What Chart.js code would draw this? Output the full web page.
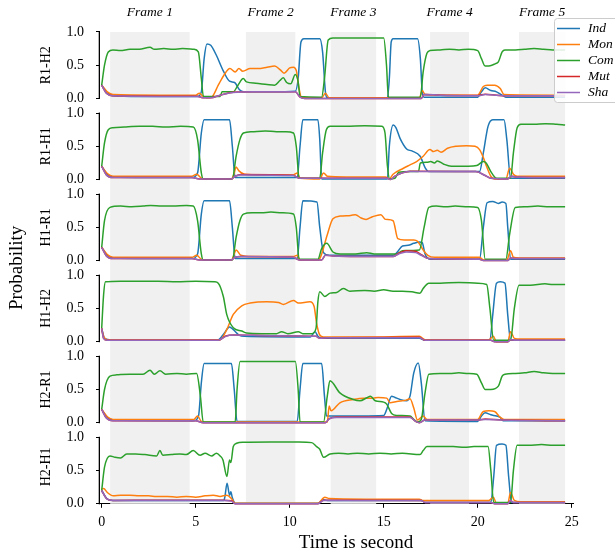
<!DOCTYPE html>
<html>
<head>
<meta charset="utf-8">
<script src="https://cdn.jsdelivr.net/npm/chart.js@4"></script>
<style>
  html, body { margin: 0; padding: 0; background: #fff; }
</style>
</head>
<body>
<canvas id="chart" width="615" height="556"></canvas>
<script>
// --------- Data (time in seconds, probability) ---------
const panelNames = ["R1-H2", "R1-H1", "H1-R1", "H1-H2", "H2-R1", "H2-H1"];
const seriesNames = ["Ind", "Mon", "Com", "Mut", "Sha"];
const xTicks = [0, 5, 10, 15, 20, 25];
const yTicks = [0, 0.5, 1];
const frameLabels = ["Frame 1", "Frame 2", "Frame 3", "Frame 4", "Frame 5"];
const frameStart = [0.45, 7.67, 12.18, 17.47, 22.2];
const frameEnd = [4.68, 10.3, 14.6, 19.54, 24.65];

// R1-H2
const r1h2Ind = [[0,0.2],[0.3,0.08],[0.6,0.04],[2,0.03],[5.1,0.03],[5.3,0.1],[5.45,0.6],[5.6,0.82],[5.8,0.8],[6.1,0.65],[6.46,0.42],[6.8,0.26],[7.07,0.24],[7.33,0.13],[7.55,0.1],[9,0.1],[10.3,0.11],[10.45,0.3],[10.6,0.85],[10.75,0.9],[11.6,0.9],[11.75,0.7],[11.9,0.1],[12,0.01],[15.2,0.01],[15.3,0.3],[15.4,0.85],[15.5,0.9],[16.8,0.9],[16.95,0.6],[17.05,0.1],[17.15,0.02],[20,0.02],[20.2,0.1],[20.4,0.16],[20.7,0.12],[21,0.1],[21.3,0.05],[21.5,0.02],[24.65,0.02]];
const r1h2Mon = [[0,0.2],[0.3,0.1],[0.6,0.06],[3,0.05],[5,0.05],[5.2,0.08],[5.4,0.03],[5.6,0.01],[5.85,0.02],[6.2,0.2],[6.5,0.35],[6.82,0.45],[7.1,0.4],[7.3,0.45],[7.5,0.41],[7.9,0.45],[8.3,0.45],[8.8,0.47],[9.2,0.49],[9.5,0.43],[9.7,0.38],[10,0.46],[10.2,0.47],[10.35,0.42],[10.5,0.15],[10.6,0.03],[10.8,0.01],[11.7,0.01],[11.9,0.08],[12.1,0.01],[16.9,0.01],[17.05,0.12],[17.2,0.06],[20,0.05],[20.3,0.18],[20.5,0.2],[20.9,0.2],[21.2,0.15],[21.4,0.06],[24.65,0.05]];
const r1h2Com = [[0,0.2],[0.15,0.5],[0.35,0.7],[0.6,0.73],[1,0.72],[1.5,0.74],[2,0.74],[2.57,0.77],[2.8,0.74],[3.3,0.75],[3.8,0.74],[4.3,0.75],[4.9,0.74],[5.14,0.7],[5.3,0.3],[5.41,0.03],[6.3,0.03],[6.4,0.1],[7,0.1],[7.25,0.2],[7.53,0.3],[7.7,0.25],[8.2,0.23],[8.8,0.21],[9.2,0.2],[9.48,0.27],[9.66,0.31],[9.84,0.24],[10.05,0.22],[10.3,0.36],[10.45,0.25],[10.55,0.03],[11.7,0.02],[11.85,0.3],[12.05,0.88],[12.3,0.91],[15,0.91],[15.15,0.5],[15.25,0.02],[16.95,0.02],[17.1,0.4],[17.3,0.68],[17.46,0.72],[18,0.73],[18.5,0.74],[19,0.73],[19.5,0.74],[20,0.72],[20.2,0.6],[20.39,0.49],[20.6,0.49],[20.92,0.52],[21.1,0.55],[21.3,0.7],[21.45,0.73],[22,0.73],[22.5,0.74],[23,0.75],[23.5,0.74],[24,0.73],[24.65,0.73]];
const r1h2Mut = [[0,0.2],[0.25,0.08],[0.6,0.04],[3,0.035],[5.1,0.035],[5.4,0.01],[5.8,0.01],[6.3,0.05],[7,0.095],[8,0.1],[10.3,0.1],[10.55,0.02],[10.8,0],[17,0],[17.15,0.06],[18,0.05],[20,0.045],[20.4,0.065],[21,0.05],[21.5,0.04],[24.65,0.04]];
const r1h2Sha = [[0,0.2],[0.25,0.08],[0.6,0.04],[3,0.03],[5.1,0.03],[5.4,0.01],[5.8,0.01],[6.3,0.05],[7,0.09],[8,0.1],[10.3,0.1],[10.55,0.02],[10.8,0],[17,0],[17.15,0.06],[18,0.05],[20,0.04],[20.4,0.06],[21,0.05],[21.5,0.04],[24.65,0.04]];

// R1-H1
const r1h1Ind = [[0,0.2],[0.3,0.08],[0.6,0.04],[4.8,0.03],[5.1,0.1],[5.3,0.7],[5.45,0.9],[6.8,0.9],[6.95,0.5],[7.1,0.03],[10.4,0.03],[10.55,0.5],[10.7,0.9],[11.5,0.9],[11.6,0.6],[11.7,0.01],[15.2,0.01],[15.3,0.5],[15.51,0.82],[15.65,0.78],[15.87,0.62],[16.22,0.46],[16.5,0.43],[16.94,0.35],[17.2,0.18],[17.4,0.12],[19,0.12],[20.1,0.12],[20.3,0.4],[20.55,0.8],[20.8,0.9],[21.4,0.9],[21.55,0.6],[21.75,0.02],[24.65,0.02]];
const r1h1Mon = [[0,0.2],[0.3,0.09],[0.6,0.05],[4.8,0.05],[5.05,0.08],[5.3,0.02],[5.5,0.01],[6.9,0.01],[7.05,0.1],[7.15,0.19],[7.3,0.13],[7.6,0.08],[8.5,0.07],[10.2,0.07],[10.4,0.1],[10.55,0.02],[11.6,0.01],[11.8,0.1],[12,0.05],[13,0.04],[15.1,0.04],[15.3,0.01],[15.5,0.08],[16.05,0.17],[16.4,0.22],[16.75,0.27],[17.1,0.35],[17.46,0.45],[17.65,0.42],[17.85,0.44],[18.05,0.41],[18.4,0.47],[18.85,0.5],[19.4,0.51],[19.86,0.5],[20.1,0.45],[20.3,0.33],[20.47,0.2],[20.7,0.05],[20.9,0.01],[21.5,0.01],[21.7,0.17],[21.9,0.08],[22.1,0.05],[24.65,0.05]];
const r1h1Com = [[0,0.2],[0.15,0.55],[0.35,0.75],[0.6,0.78],[1.2,0.79],[2,0.8],[2.7,0.8],[3.4,0.79],[4.2,0.8],[4.87,0.79],[5.1,0.6],[5.3,0.1],[5.4,0.01],[6.95,0.01],[7.15,0.35],[7.35,0.6],[7.54,0.7],[8,0.72],[8.7,0.73],[9.3,0.72],[9.8,0.72],[10.2,0.7],[10.35,0.5],[10.5,0.02],[11.6,0.02],[11.75,0.4],[11.95,0.75],[12.15,0.8],[13,0.8],[14,0.81],[14.9,0.8],[15.07,0.7],[15.2,0.2],[15.3,0.01],[15.6,0.02],[15.8,0.11],[16.4,0.12],[16.85,0.12],[16.95,0.25],[17.3,0.26],[17.5,0.27],[17.7,0.25],[17.85,0.28],[18.2,0.23],[18.6,0.2],[19.5,0.2],[19.95,0.21],[20.3,0.27],[20.45,0.25],[20.7,0.12],[21,0.02],[21.75,0.02],[21.9,0.4],[22.1,0.78],[22.3,0.83],[23,0.83],[23.6,0.84],[24.2,0.83],[24.65,0.82]];
const r1h1Mut = [[0,0.2],[0.25,0.07],[0.6,0.03],[4.8,0.03],[5.2,0.01],[6.9,0.01],[7.1,0.05],[7.4,0.075],[10.2,0.065],[10.5,0.02],[15.2,0.02],[15.35,0],[15.6,0.05],[16,0.1],[16.4,0.125],[19.9,0.12],[20.4,0.06],[20.7,0.02],[21.6,0.01],[21.8,0.05],[22,0.04],[24.65,0.03]];
const r1h1Sha = [[0,0.2],[0.25,0.07],[0.6,0.03],[4.8,0.03],[5.2,0.01],[6.9,0.01],[7.1,0.05],[7.4,0.07],[10.2,0.06],[10.5,0.02],[15.2,0.02],[15.35,0],[15.6,0.05],[16,0.1],[16.4,0.12],[19.9,0.12],[20.4,0.06],[20.7,0.02],[21.6,0.01],[21.8,0.05],[22,0.04],[24.65,0.03]];

// H1-R1
const h1r1Ind = [[0,0.2],[0.3,0.08],[0.6,0.04],[4.8,0.03],[5.1,0.1],[5.3,0.7],[5.45,0.9],[6.8,0.9],[6.95,0.5],[7.1,0.03],[10.4,0.03],[10.55,0.5],[10.7,0.9],[11.45,0.88],[11.6,0.5],[11.8,0.12],[12.1,0.08],[15.5,0.08],[15.7,0.12],[16,0.22],[16.3,0.23],[16.6,0.26],[16.9,0.28],[17.05,0.27],[17.2,0.1],[17.5,0.02],[20.1,0.02],[20.3,0.5],[20.5,0.87],[20.8,0.89],[21.1,0.86],[21.3,0.88],[21.5,0.86],[21.6,0.5],[21.75,0.02],[24.65,0.02]];
const h1r1Mon = [[0,0.2],[0.3,0.09],[0.6,0.05],[4.8,0.05],[5.05,0.08],[5.3,0.02],[5.5,0.01],[6.9,0.01],[7.05,0.1],[7.15,0.16],[7.4,0.08],[8,0.06],[10.2,0.06],[10.4,0.08],[10.55,0.01],[11.5,0.01],[11.65,0.06],[12,0.39],[12.3,0.63],[12.7,0.67],[13.25,0.68],[13.5,0.69],[13.8,0.64],[14.06,0.62],[14.4,0.66],[14.85,0.69],[15.1,0.62],[15.5,0.6],[15.75,0.33],[16.1,0.31],[16.6,0.31],[16.8,0.29],[17.1,0.16],[17.35,0.08],[17.7,0.05],[20.1,0.05],[20.3,0.01],[21.55,0.01],[21.75,0.15],[21.9,0.05],[22.2,0.04],[24.65,0.04]];
const h1r1Com = [[0,0.2],[0.15,0.6],[0.44,0.8],[1,0.82],[1.6,0.81],[2.2,0.82],[2.6,0.83],[3.2,0.82],[3.8,0.82],[4.5,0.83],[4.87,0.82],[5.1,0.6],[5.3,0.1],[5.4,0.01],[6.95,0.01],[7.15,0.35],[7.35,0.6],[7.54,0.7],[8,0.72],[8.5,0.72],[9,0.73],[9.6,0.72],[10.2,0.7],[10.35,0.5],[10.5,0.02],[11.5,0.02],[11.7,0.18],[11.97,0.26],[12.3,0.13],[12.68,0.1],[13.5,0.1],[14.1,0.12],[14.5,0.1],[15.3,0.1],[15.7,0.1],[16,0.15],[16.9,0.16],[17.15,0.5],[17.4,0.8],[17.8,0.82],[18.3,0.81],[18.8,0.82],[19.5,0.81],[20,0.8],[20.2,0.6],[20.4,0.02],[21.5,0.02],[21.7,0.4],[22,0.8],[22.5,0.81],[23.2,0.82],[23.8,0.81],[24.65,0.81]];
const h1r1Mut = [[0,0.2],[0.25,0.07],[0.6,0.03],[4.8,0.03],[5.2,0.01],[6.9,0.01],[7.1,0.05],[7.4,0.06],[10.2,0.05],[10.5,0.01],[11.7,0.01],[11.9,0.08],[12.3,0.07],[15.5,0.06],[15.8,0.11],[16.2,0.15],[16.7,0.14],[17,0.09],[17.4,0.03],[20.1,0.02],[20.3,0],[21.6,0],[21.75,0.04],[22,0.03],[24.65,0.03]];
const h1r1Sha = [[0,0.2],[0.25,0.07],[0.6,0.03],[4.8,0.03],[5.2,0.01],[6.9,0.01],[7.1,0.05],[7.4,0.06],[10.2,0.05],[10.5,0.01],[11.7,0.01],[11.9,0.08],[12.3,0.07],[15.5,0.06],[15.8,0.1],[16.2,0.13],[16.7,0.12],[17,0.08],[17.4,0.03],[20.1,0.02],[20.3,0],[21.6,0],[21.75,0.04],[22,0.03],[24.65,0.03]];

// H1-H2
const h1h2Ind = [[0,0.2],[0.15,0.05],[0.4,0.03],[6.2,0.03],[6.5,0.12],[6.8,0.22],[7,0.18],[7.3,0.1],[7.6,0.08],[11.1,0.07],[11.35,0.15],[11.5,0.08],[11.7,0.05],[16.9,0.05],[17.2,0.02],[20.65,0.02],[20.8,0.4],[21,0.88],[21.2,0.9],[21.45,0.88],[21.6,0.4],[21.75,0.02],[24.65,0.02]];
const h1h2Mon = [[0,0.2],[0.1,0.08],[0.3,0.03],[6.3,0.03],[6.65,0.18],[7,0.41],[7.45,0.54],[7.9,0.58],[8.78,0.6],[9.4,0.59],[9.66,0.56],[10.2,0.62],[10.46,0.58],[11.08,0.6],[11.3,0.53],[11.43,0.28],[11.6,0.1],[11.8,0.07],[14,0.07],[16.9,0.08],[17.2,0.03],[20.6,0.03],[20.83,0.08],[21,0],[21.6,0],[21.75,0.15],[21.95,0.05],[22.3,0.04],[24.65,0.04]];
const h1h2Com = [[0,0.2],[0.1,0.7],[0.2,0.9],[1,0.91],[2,0.91],[3,0.91],[4,0.9],[5,0.91],[6,0.9],[6.2,0.88],[6.47,0.68],[6.65,0.41],[7,0.21],[7.45,0.16],[7.7,0.13],[8.5,0.12],[9.3,0.12],[9.57,0.15],[9.9,0.12],[10.46,0.15],[10.7,0.12],[11.17,0.12],[11.4,0.2],[11.5,0.6],[11.6,0.75],[11.87,0.68],[12.15,0.73],[12.5,0.74],[12.85,0.8],[13.2,0.76],[14,0.77],[14.5,0.76],[15,0.78],[15.5,0.76],[16,0.76],[16.5,0.75],[16.93,0.73],[17.1,0.8],[17.4,0.88],[18,0.88],[19,0.89],[20,0.88],[20.48,0.86],[20.65,0.5],[20.85,0.02],[21.75,0.02],[21.95,0.5],[22.2,0.85],[22.8,0.85],[23.58,0.87],[24,0.86],[24.65,0.86]];
const h1h2Mut = [[0,0.2],[0.1,0.05],[0.3,0.02],[6.2,0.02],[6.6,0.085],[7,0.1],[9,0.09],[11.4,0.08],[11.6,0.05],[12,0.06],[16.9,0.065],[17.2,0.02],[20.7,0.02],[20.9,0],[21.6,0],[21.75,0.03],[22,0.02],[24.65,0.02]];
const h1h2Sha = [[0,0.2],[0.1,0.05],[0.3,0.02],[6.2,0.02],[6.6,0.08],[7,0.1],[9,0.09],[11.4,0.08],[11.6,0.05],[12,0.06],[16.9,0.06],[17.2,0.02],[20.7,0.02],[20.9,0],[21.6,0],[21.75,0.03],[22,0.02],[24.65,0.02]];

// H2-R1
const h2r1Ind = [[0,0.2],[0.3,0.08],[0.6,0.04],[4.9,0.03],[5.15,0.1],[5.3,0.6],[5.45,0.89],[6.9,0.89],[7.05,0.5],[7.2,0.02],[10.4,0.02],[10.55,0.5],[10.7,0.89],[11.7,0.89],[11.85,0.4],[11.96,0.1],[12.2,0.1],[15,0.11],[15.16,0.2],[15.42,0.4],[15.6,0.38],[15.87,0.35],[16.2,0.33],[16.4,0.4],[16.6,0.75],[16.84,0.9],[17,0.6],[17.2,0.03],[20,0.02],[20.2,0.1],[20.39,0.15],[20.7,0.12],[21,0.1],[21.2,0.08],[21.35,0.03],[24.65,0.03]];
const h2r1Mon = [[0,0.2],[0.3,0.09],[0.6,0.05],[4.9,0.05],[5.1,0.1],[5.3,0.02],[5.5,0.01],[12,0.01],[12.1,0.25],[12.2,0.18],[12.67,0.3],[13.38,0.35],[13.92,0.37],[14.45,0.37],[14.7,0.38],[15.16,0.37],[15.34,0.3],[15.7,0.32],[16.2,0.34],[16.4,0.36],[16.6,0.22],[16.8,0.04],[17.1,0.1],[17.3,0.05],[20,0.05],[20.3,0.17],[20.6,0.18],[20.9,0.17],[21.2,0.08],[21.4,0.05],[24.65,0.05]];
const h2r1Com = [[0,0.2],[0.15,0.5],[0.44,0.7],[0.8,0.72],[1.5,0.73],[2.2,0.73],[2.57,0.79],[2.8,0.73],[3.1,0.78],[3.4,0.73],[4,0.74],[4.5,0.73],[5.05,0.74],[5.25,0.4],[5.4,0.01],[7.1,0.01],[7.2,0.5],[7.36,0.92],[10.3,0.92],[10.45,0.5],[10.55,0.01],[11.8,0.01],[12,0.4],[12.14,0.63],[12.67,0.45],[13.38,0.35],[13.74,0.33],[14.1,0.375],[14.3,0.4],[14.55,0.33],[15,0.31],[15.16,0.28],[15.42,0.14],[15.7,0.11],[16.4,0.1],[16.6,0.05],[16.8,0.01],[17,0.05],[17.2,0.45],[17.4,0.73],[18,0.74],[18.5,0.74],[19,0.75],[19.5,0.74],[19.95,0.73],[20.2,0.6],[20.4,0.5],[20.7,0.5],[21.1,0.55],[21.3,0.7],[21.45,0.73],[22,0.74],[22.5,0.75],[23,0.77],[23.5,0.75],[24,0.74],[24.65,0.74]];
const h2r1Mut = [[0,0.2],[0.25,0.07],[0.6,0.03],[5,0.03],[5.4,0],[11.9,0],[12.1,0.06],[12.5,0.085],[16.4,0.085],[16.7,0.02],[16.9,0],[17.2,0.04],[20,0.04],[20.4,0.055],[21.3,0.04],[24.65,0.03]];
const h2r1Sha = [[0,0.2],[0.25,0.07],[0.6,0.03],[5,0.03],[5.4,0],[11.9,0],[12.1,0.06],[12.5,0.08],[16.4,0.08],[16.7,0.02],[16.9,0],[17.2,0.04],[20,0.04],[20.4,0.05],[21.3,0.04],[24.65,0.03]];

// H2-H1
const h2h1Ind = [[0,0.2],[0.3,0.07],[0.6,0.05],[6.5,0.05],[6.55,0.1],[6.67,0.31],[6.8,0.13],[6.87,0.18],[6.95,0.09],[7.1,0.01],[11.5,0.01],[11.8,0.06],[12,0.05],[17,0.05],[17.2,0.02],[20.7,0.02],[20.85,0.4],[21,0.88],[21.3,0.9],[21.5,0.88],[21.65,0.4],[21.8,0.02],[24.65,0.02]];
const h2h1Mon = [[0,0.22],[0.1,0.23],[0.3,0.17],[0.62,0.12],[1,0.13],[1.5,0.13],[2,0.12],[2.5,0.12],[2.9,0.11],[3.5,0.11],[4,0.1],[4.5,0.11],[5,0.1],[5.5,0.12],[5.94,0.13],[6.3,0.11],[6.65,0.13],[6.9,0.08],[7.1,0.01],[11.5,0.01],[11.87,0.1],[12.1,0.08],[14,0.07],[16.9,0.07],[17.1,0.05],[20.6,0.05],[20.83,0.1],[21,0.01],[21.6,0.01],[21.75,0.17],[21.95,0.05],[22.3,0.03],[24.65,0.03]];
const h2h1Com = [[0,0.2],[0.15,0.55],[0.44,0.72],[0.71,0.7],[1,0.69],[1.33,0.75],[1.8,0.75],[2.3,0.74],[2.92,0.72],[3.1,0.8],[3.25,0.73],[3.7,0.74],[4.16,0.75],[4.5,0.74],[4.87,0.8],[5.23,0.73],[5.5,0.76],[5.85,0.72],[6.1,0.76],[6.3,0.72],[6.45,0.66],[6.66,0.41],[6.8,0.66],[6.87,0.62],[7,0.86],[7.18,0.91],[7.53,0.925],[9,0.93],[10.5,0.93],[11.17,0.92],[11.43,0.86],[11.6,0.82],[11.8,0.7],[12.15,0.75],[12.6,0.76],[13.1,0.75],[13.6,0.76],[14.2,0.75],[14.8,0.76],[15.4,0.75],[16,0.76],[16.93,0.74],[17.1,0.8],[17.3,0.86],[18,0.86],[18.7,0.86],[19.3,0.85],[19.8,0.86],[20.55,0.86],[20.7,0.5],[20.85,0.02],[21.75,0.02],[21.9,0.5],[22.1,0.88],[22.7,0.88],[23.4,0.89],[24,0.88],[24.65,0.88]];
const h2h1Mut = [[0,0.2],[0.25,0.08],[0.6,0.05],[3,0.055],[6.5,0.055],[6.9,0.045],[7.1,0],[11.5,0],[11.8,0.055],[17,0.05],[17.2,0.02],[20.7,0.02],[20.9,0],[21.6,0],[21.75,0.05],[21.9,0.02],[24.65,0.02]];
const h2h1Sha = [[0,0.2],[0.25,0.08],[0.6,0.05],[3,0.05],[6.5,0.05],[6.9,0.04],[7.1,0],[11.5,0],[11.8,0.05],[17,0.05],[17.2,0.02],[20.7,0.02],[20.9,0],[21.6,0],[21.75,0.05],[21.9,0.02],[24.65,0.02]];

const panelSeries = [
  [r1h2Ind, r1h2Mon, r1h2Com, r1h2Mut, r1h2Sha],
  [r1h1Ind, r1h1Mon, r1h1Com, r1h1Mut, r1h1Sha],
  [h1r1Ind, h1r1Mon, h1r1Com, h1r1Mut, h1r1Sha],
  [h1h2Ind, h1h2Mon, h1h2Com, h1h2Mut, h1h2Sha],
  [h2r1Ind, h2r1Mon, h2r1Com, h2r1Mut, h2r1Sha],
  [h2h1Ind, h2h1Mon, h2h1Com, h2h1Mut, h2h1Sha]
];

// --------- Style ---------
const colors = ["#1f77b4", "#ff7f0e", "#2ca02c", "#d62728", "#9467bd"];
const serif = "'Liberation Serif', 'DejaVu Serif', serif";
Chart.defaults.font.family = serif;
Chart.defaults.color = "#000";

// --------- Datasets ---------
const datasets = [];
panelSeries.forEach((series, k) => {
  series.forEach((pts, j) => {
    datasets.push({
      label: seriesNames[j],
      data: pts.map(p => ({ x: p[0], y: p[1] })),
      yAxisID: "y" + k,
      borderColor: colors[j],
      borderWidth: 1.5,
      pointRadius: 0,
      cubicInterpolationMode: "monotone",
      fill: false,
      clip: false,
      order: 5 - j
    });
  });
});

// --------- Scales ---------
const scales = {
  x: {
    type: "linear",
    min: -0.09,
    max: 25.07,
    afterBuildTicks: axis => { axis.ticks = xTicks.map(v => ({ value: v })); },
    afterFit: axis => { axis.height = 52.2; },
    grid: { drawOnChartArea: false, tickLength: 4, color: "#000" },
    border: { color: "#000", width: 1 },
    ticks: { font: { size: 14 }, color: "#000", padding: 6, maxRotation: 0 }
  }
};
// stacked axes are laid out bottom-up, so add the lowest panel first
for (let k = panelNames.length - 1; k >= 0; k--) {
  const last = k === panelNames.length - 1;
  scales["y" + k] = {
    type: "linear",
    position: "left",
    stack: "panels",
    stackWeight: last ? 73.78 : 81.06,
    min: last ? 0 : -0.1095,
    max: 1.1095,
    afterBuildTicks: axis => { axis.ticks = yTicks.map(v => ({ value: v })); },
    afterFit: axis => { axis.width = 100; },
    grid: { drawOnChartArea: false, tickLength: 4, color: "#000" },
    border: { display: false },
    ticks: { callback: v => v.toFixed(1), font: { size: 14 }, color: "#000", padding: 12 },
    title: { display: true, text: panelNames[k], font: { size: 14 }, color: "#000", padding: { top: 38, bottom: 0 } }
  };
}

// --------- Extra drawing: frames, spines, legend, labels ---------
const decorations = {
  id: "decorations",
  beforeDatasetsDraw(chart) {
    const { ctx, chartArea } = chart;
    const x = chart.scales.x;
    const top = chart.scales.y0.getPixelForValue(1);
    ctx.save();
    ctx.fillStyle = "#f0f0f0";
    frameStart.forEach((s, i) => {
      const x0 = x.getPixelForValue(s);
      const x1 = x.getPixelForValue(frameEnd[i]);
      ctx.fillRect(x0, top, x1 - x0, chartArea.bottom - top);
    });
    ctx.restore();
  },
  afterDraw(chart) {
    const { ctx, chartArea } = chart;
    const x = chart.scales.x;
    ctx.save();

    // left spine of each panel, from 0 to 1
    ctx.fillStyle = "#000";
    panelNames.forEach((n, k) => {
      const s = chart.scales["y" + k];
      const y1 = s.getPixelForValue(1);
      const y0 = s.getPixelForValue(0);
      ctx.fillRect(chartArea.left - 1.3, y1 - 0.5, 1.3, y0 - y1 + 1);
    });

    // frame labels
    ctx.fillStyle = "#000";
    ctx.font = "italic 13.5px " + serif;
    ctx.textAlign = "center";
    ctx.textBaseline = "middle";
    frameLabels.forEach((lab, i) => {
      const cx = (x.getPixelForValue(frameStart[i]) + x.getPixelForValue(frameEnd[i])) / 2;
      ctx.fillText(lab, cx, 12);
    });

    // axis labels
    ctx.font = "19px " + serif;
    ctx.fillText("Time is second", 356, 543);
    ctx.save();
    ctx.translate(17, (chart.scales.y0.getPixelForValue(1) + chartArea.bottom) / 2);
    ctx.rotate(-Math.PI / 2);
    ctx.fillText("Probability", 0, 0);
    ctx.restore();

    // legend
    const lx = 554, ly = 18;
    ctx.fillStyle = "rgba(255,255,255,0.85)";
    ctx.strokeStyle = "#cccccc";
    ctx.lineWidth = 1;
    ctx.beginPath();
    ctx.roundRect(lx + 0.5, ly + 0.5, 80, 84, 3);
    ctx.fill();
    ctx.stroke();
    ctx.font = "italic 13.5px " + serif;
    ctx.textAlign = "left";
    seriesNames.forEach((n, j) => {
      const y = 28.5 + j * 16;
      ctx.strokeStyle = colors[j];
      ctx.lineWidth = 1.5;
      ctx.beginPath();
      ctx.moveTo(557, y);
      ctx.lineTo(580, y);
      ctx.stroke();
      ctx.fillStyle = "#000";
      ctx.fillText(n, 588, y);
    });
    ctx.restore();
  }
};

new Chart(document.getElementById("chart"), {
  type: "line",
  data: { datasets },
  options: {
    responsive: false,
    animation: false,
    devicePixelRatio: 1,
    layout: { padding: { left: 0, right: 42, top: 24.7, bottom: 0 } },
    plugins: { legend: { display: false }, tooltip: { enabled: false } },
    scales
  },
  plugins: [decorations]
});
</script>
</body>
</html>
